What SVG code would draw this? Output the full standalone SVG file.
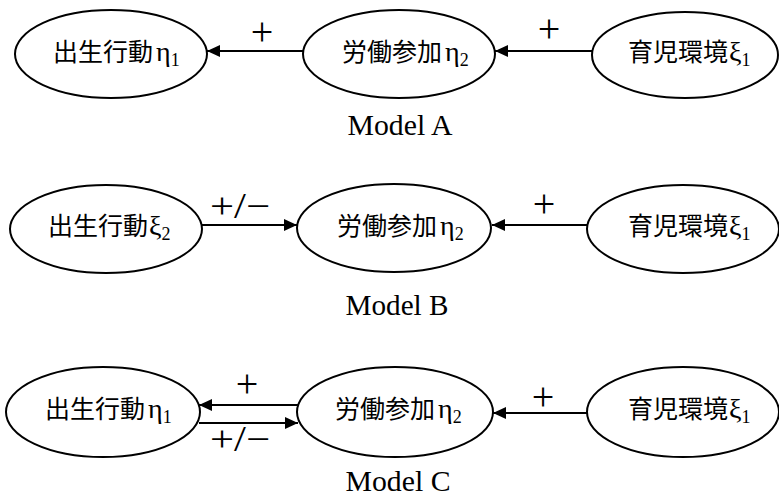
<svg xmlns="http://www.w3.org/2000/svg" width="779" height="498" viewBox="0 0 779 498">
  <style>
    .node ellipse { fill: #fff; stroke: #000; stroke-width: 2; }
    .lbl { font-family: "Noto Sans CJK JP", "Noto Sans CJK SC", sans-serif; font-size: 25px; fill: #000; }
    .gr { font-family: "Liberation Serif", "DejaVu Serif", serif; font-size: 28px; }
    .sub { font-family: "Liberation Serif", "DejaVu Serif", serif; font-size: 18px; }
    .edge { stroke: #000; stroke-width: 2; fill: none; marker-end: url(#arrow); }
    .sign { font-family: "Liberation Serif", "DejaVu Serif", serif; font-size: 40px; fill: #000; text-anchor: middle; }
    .sign2 { font-family: "Liberation Serif", "DejaVu Serif", serif; font-size: 36px; fill: #000; text-anchor: middle; }
    .title { font-family: "Liberation Serif", "DejaVu Serif", serif; font-size: 29px; fill: #000; text-anchor: middle; }
  </style>
  <defs>
    <marker id="arrow" markerUnits="userSpaceOnUse" markerWidth="14" markerHeight="12" refX="13" refY="6" orient="auto">
      <path d="M0,0 L13,6 L0,12 Z" fill="#000"/>
    </marker>
  </defs>
  <rect width="779" height="498" fill="#fff"/>

  <!-- Model A -->
  <g id="a-birth" class="node">
    <ellipse cx="111" cy="54" rx="96" ry="44"/>
    <text class="lbl" x="53" y="61">出生行動<tspan class="gr" dx="3">η</tspan><tspan class="sub" dy="5">1</tspan></text>
  </g>
  <g id="a-labor" class="node">
    <ellipse cx="399" cy="54" rx="96" ry="44"/>
    <text class="lbl" x="342" y="61">労働参加<tspan class="gr" dx="3">η</tspan><tspan class="sub" dy="5">2</tspan></text>
  </g>
  <g id="a-child" class="node">
    <ellipse cx="685" cy="55" rx="93" ry="43"/>
    <text class="lbl" x="628" y="61">育児環境<tspan class="gr" dx="1">ξ</tspan><tspan class="sub" dy="5">1</tspan></text>
  </g>

  <!-- Model B -->
  <g id="b-birth" class="node">
    <ellipse cx="106" cy="229" rx="96" ry="44"/>
    <text class="lbl" x="48" y="235">出生行動<tspan class="gr" dx="1">ξ</tspan><tspan class="sub" dy="5">2</tspan></text>
  </g>
  <g id="b-labor" class="node">
    <ellipse cx="394" cy="228" rx="97" ry="44"/>
    <text class="lbl" x="337" y="235">労働参加<tspan class="gr" dx="3">η</tspan><tspan class="sub" dy="5">2</tspan></text>
  </g>
  <g id="b-child" class="node">
    <ellipse cx="683" cy="229" rx="96" ry="44"/>
    <text class="lbl" x="628" y="235">育児環境<tspan class="gr" dx="1">ξ</tspan><tspan class="sub" dy="5">1</tspan></text>
  </g>

  <!-- Model C -->
  <g id="c-birth" class="node">
    <ellipse cx="103" cy="412" rx="97" ry="45"/>
    <text class="lbl" x="45" y="418">出生行動<tspan class="gr" dx="3">η</tspan><tspan class="sub" dy="5">1</tspan></text>
  </g>
  <g id="c-labor" class="node">
    <ellipse cx="395" cy="412" rx="98" ry="45"/>
    <text class="lbl" x="335" y="418">労働参加<tspan class="gr" dx="3">η</tspan><tspan class="sub" dy="5">2</tspan></text>
  </g>
  <g id="c-child" class="node">
    <ellipse cx="683" cy="412" rx="96" ry="45"/>
    <text class="lbl" x="628" y="418">育児環境<tspan class="gr" dx="1">ξ</tspan><tspan class="sub" dy="5">1</tspan></text>
  </g>

  <!-- connectors -->
  <g id="connectors">
    <line class="edge" x1="303" y1="51" x2="207" y2="51"/>
    <line class="edge" x1="592" y1="51" x2="495" y2="51"/>

    <line class="edge" x1="202" y1="225" x2="297" y2="225"/>
    <line class="edge" x1="587" y1="225" x2="492" y2="225"/>

    <line class="edge" x1="298" y1="405" x2="199" y2="405"/>
    <line class="edge" x1="199" y1="423" x2="298" y2="423"/>
    <line class="edge" x1="587" y1="413" x2="493" y2="413"/>
  </g>

  <!-- path signs -->
  <g id="signs">
    <text class="sign" x="262" y="45">+</text>
    <text class="sign" x="549" y="42">+</text>
    <text class="sign2" x="240" y="218" textLength="60" lengthAdjust="spacingAndGlyphs">+/−</text>
    <text class="sign" x="544" y="217">+</text>
    <text class="sign" x="247" y="397">+</text>
    <text class="sign2" x="240" y="451" textLength="60" lengthAdjust="spacingAndGlyphs">+/−</text>
    <text class="sign" x="543" y="410">+</text>
  </g>

  <!-- model captions -->
  <text class="title" x="400" y="135" textLength="105" lengthAdjust="spacingAndGlyphs">Model A</text>
  <text class="title" x="397" y="315" textLength="103" lengthAdjust="spacingAndGlyphs">Model B</text>
  <text class="title" x="398" y="491" textLength="105" lengthAdjust="spacingAndGlyphs">Model C</text>
</svg>
